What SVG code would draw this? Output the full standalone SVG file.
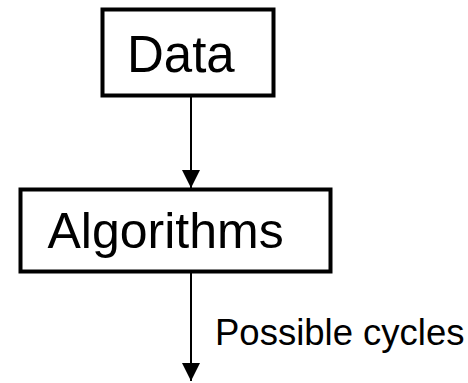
<svg xmlns="http://www.w3.org/2000/svg" width="468" height="383" viewBox="0 0 468 383">
<style>
.box{fill:#fff;stroke:#000;stroke-width:4}
.lbl{font-family:"Liberation Sans",Arial,sans-serif;fill:#000}
.edge{stroke:#000;stroke-width:2;fill:none}
</style>
<defs>
<marker id="ah" markerUnits="userSpaceOnUse" markerWidth="18" markerHeight="18" refX="18" refY="9" orient="auto" viewBox="0 0 18 18">
<path d="M0,0 L18,9 L0,18 Z" fill="#000"/>
</marker>
</defs>
<rect width="468" height="383" fill="#fff"/>
<g id="connectors">
<line class="edge" x1="191" y1="97" x2="191" y2="188" marker-end="url(#ah)"/>
<line class="edge" x1="191" y1="272" x2="191" y2="381" marker-end="url(#ah)"/>
<text class="lbl" x="215" y="345" font-size="36.5">Possible cycles</text>
</g>
<g id="data">
<rect class="box" x="102.5" y="9.5" width="171" height="86"/>
<text class="lbl" x="127" y="72" font-size="51">Data</text>
</g>
<g id="algorithms">
<rect class="box" x="20.5" y="189.5" width="310" height="82"/>
<text class="lbl" x="47.5" y="248" font-size="50">Algorithms</text>
</g>
</svg>
